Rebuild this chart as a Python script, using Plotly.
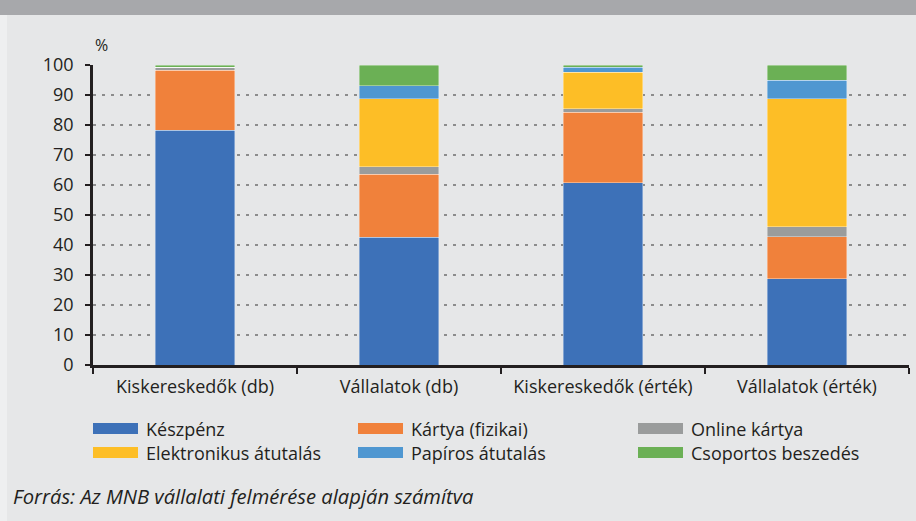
import plotly.graph_objects as go

categories = ["Kiskereskedők (db)", "Vállalatok (db)", "Kiskereskedők (érték)", "Vállalatok (érték)"]
series_names = ["Készpénz", "Kártya (fizikai)", "Online kártya",
                "Elektronikus átutalás", "Papíros átutalás", "Csoportos beszedés"]
keszpenz = [78.3, 42.6, 60.8, 28.8]
kartya = [20.0, 21.0, 23.5, 13.9]
online = [0.9, 2.5, 1.1, 3.4]
elektronikus = [0.0, 22.7, 12.2, 42.7]
papiros = [0.0, 4.3, 1.6, 6.1]
csoportos = [0.8, 6.9, 0.8, 5.1]
y_ticks = [0, 10, 20, 30, 40, 50, 60, 70, 80, 90, 100]
unit_label = "%"
source_text = "Forrás: Az MNB vállalati felmérése alapján számítva"

series_values = [keszpenz, kartya, online, elektronikus, papiros, csoportos]
colors = ["#3d71b8", "#f0813b", "#9a9c9c", "#fdbe26", "#4f97d1", "#6bb055"]

W, H = 916, 521
ML, MR, MT, MB = 93, 7, 65, 156
PW = W - ML - MR
PH = H - MT - MB
FONT = "Open Sans"
TXT = "#231f20"
FS = 18


def px(x):
    return (x - ML) / PW


def py(y):
    return (H - MB - y) / PH


fig = go.Figure()
for name, vals, col in zip(series_names, series_values, colors):
    fig.add_trace(go.Bar(
        x=categories, y=vals, name=name,
        marker=dict(color=col, line=dict(color="rgba(255,255,255,0.45)", width=0.8)),
        showlegend=False,
    ))

shapes = []
annotations = []
shapes.append(dict(type="rect", xref="paper", yref="paper",
                   x0=px(0), x1=px(W), y0=py(15), y1=py(0),
                   fillcolor="#a7a8ab", line=dict(width=0), layer="below"))
shapes.append(dict(type="rect", xref="paper", yref="paper",
                   x0=px(0), x1=px(7), y0=py(H), y1=py(15),
                   fillcolor="#eeeff0", line=dict(width=0), layer="below"))

col_x = [93, 358, 638]
row_y = [428.5, 452.5]
for i, (name, col) in enumerate(zip(series_names, colors)):
    cx = col_x[i % 3]
    cy = row_y[i // 3]
    shapes.append(dict(type="rect", xref="paper", yref="paper",
                       x0=px(cx), x1=px(cx + 45), y0=py(cy + 5.5), y1=py(cy - 5.5),
                       fillcolor=col, line=dict(width=0)))
    annotations.append(dict(xref="paper", yref="paper", x=px(cx + 51), y=py(cy),
                            text=name, showarrow=False, xanchor="left", yanchor="middle",
                            font=dict(family=FONT, size=FS, color=TXT)))

annotations.append(dict(xref="paper", yref="paper", x=px(93), y=py(45),
                        text=unit_label, showarrow=False, xanchor="left", yanchor="middle",
                        font=dict(family=FONT, size=16, color=TXT)))
annotations.append(dict(xref="paper", yref="paper", x=px(11), y=py(496),
                        text="<i>" + source_text + "</i>", showarrow=False,
                        xanchor="left", yanchor="middle",
                        font=dict(family=FONT, size=20.2, color=TXT)))

fig.update_layout(
    width=W, height=H,
    barmode="stack", bargap=0.61,
    margin=dict(l=ML, r=MR, t=MT, b=MB),
    paper_bgcolor="#e6e7e8", plot_bgcolor="#e6e7e8",
    font=dict(family=FONT, size=FS, color=TXT),
    shapes=shapes, annotations=annotations,
    xaxis=dict(showline=True, linecolor="#231f20", linewidth=2.5,
               ticks="outside", tickson="boundaries", ticklen=6, tickwidth=2,
               tickcolor="#231f20", tickfont=dict(size=FS, color=TXT),
               ticklabelstandoff=4,
               showgrid=False, fixedrange=True),
    yaxis=dict(range=[0, 100], tickvals=y_ticks, showline=True, linecolor="#231f20",
               linewidth=2.5, ticks="outside", ticklen=5, tickwidth=2, tickcolor="#231f20",
               ticklabelstandoff=8,
               tickfont=dict(size=FS, color=TXT), showgrid=True, gridcolor="#8c8c8c",
               griddash="3px,6px", gridwidth=1.5, zeroline=False),
)

fig.write_html("out.html", config={"displayModeBar": False},
               post_script="document.body.style.margin='0';document.body.style.overflow='hidden';")
